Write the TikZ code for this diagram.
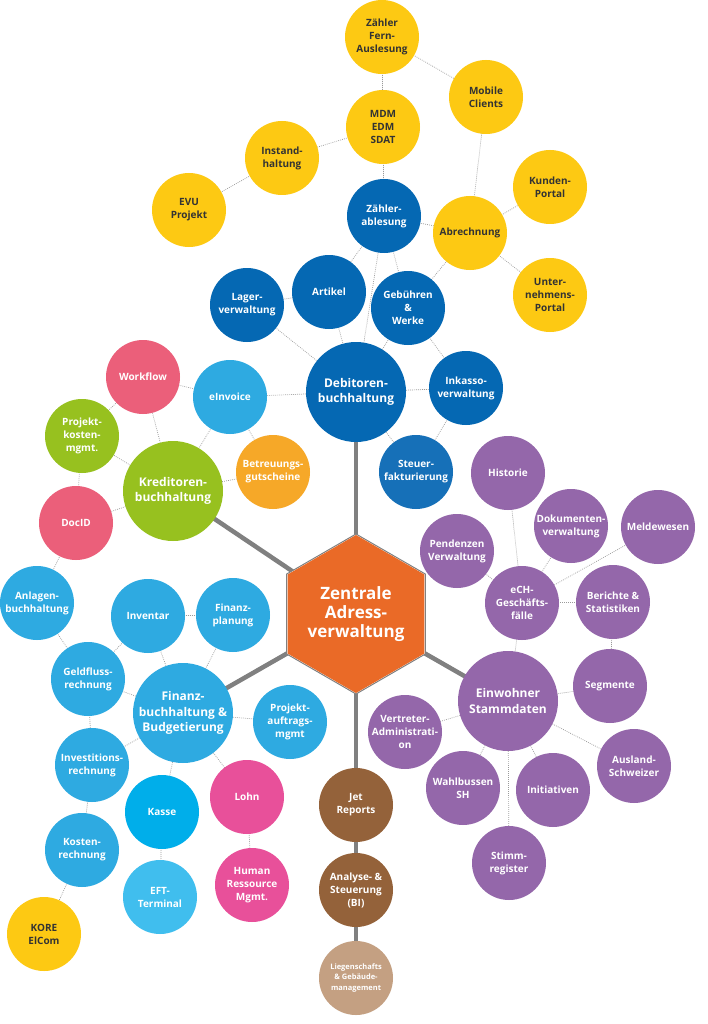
\documentclass[tikz,border=0pt]{standalone}
\usepackage{fontspec}
\setmainfont{Open Sans}
\usetikzlibrary{shapes.geometric,backgrounds}
\definecolor{cYel}{HTML}{FDC913}
\definecolor{cTxt}{HTML}{333333}
\definecolor{cDBlue}{HTML}{0568B3}
\definecolor{cSBlue}{HTML}{1670B8}
\definecolor{cLBlue}{HTML}{2EAAE1}
\definecolor{cKasse}{HTML}{00AEEA}
\definecolor{cEft}{HTML}{40BEEE}
\definecolor{cGreen}{HTML}{97C11F}
\definecolor{cRed}{HTML}{EB5F7A}
\definecolor{cOrng}{HTML}{F6A828}
\definecolor{cPink}{HTML}{E8509A}
\definecolor{cPurp}{HTML}{9467AA}
\definecolor{cBrown}{HTML}{94623A}
\definecolor{cTan}{HTML}{C4A082}
\definecolor{cHex}{HTML}{EA6A27}
\definecolor{cTrunk}{HTML}{808080}
\definecolor{cDot}{HTML}{9A9A9A}
\tikzset{
  bub/.style={circle, minimum size=74pt, inner sep=0pt, align=center,
    font=\bfseries\fontsize{10}{13}\selectfont, text=white},
  big/.style={minimum size=100pt, font=\bfseries\fontsize{12}{15.5}\selectfont},
  ylw/.style={bub, fill=cYel, text=cTxt},
  dblue/.style={bub, fill=cDBlue},
  sblue/.style={bub, fill=cSBlue},
  lblue/.style={bub, fill=cLBlue},
  kasse/.style={bub, fill=cKasse},
  eft/.style={bub, fill=cEft},
  grn/.style={bub, fill=cGreen},
  redb/.style={bub, fill=cRed},
  orng/.style={bub, fill=cOrng},
  pinkb/.style={bub, fill=cPink},
  purp/.style={bub, fill=cPurp},
  brwn/.style={bub, fill=cBrown},
  tanb/.style={bub, fill=cTan, font=\bfseries\fontsize{7.5}{10.5}\selectfont},
  link/.style={draw=cDot, line width=0.7pt, dash pattern=on 0.8pt off 1.2pt},
  trunk/.style={draw=cTrunk, line width=4.5pt},
}
\begin{document}
\begin{tikzpicture}[x=1pt,y=-1pt]
\useasboundingbox (0,0) rectangle (708,1024);
% hexagon
\node[regular polygon, regular polygon sides=6, shape border rotate=30,
  minimum size=160pt, inner sep=0pt, fill=white, draw=cTrunk, line width=1pt] (hex) at (356,614) {};
\node[regular polygon, regular polygon sides=6, shape border rotate=30,
  minimum size=142pt, inner sep=0pt, fill=cHex, text=white, align=center,
  font=\bfseries\fontsize{17}{19}\selectfont] (hexin) at (356,614) {Zentrale\\Adress-\\verwaltung};
% yellow / Debitoren group
\node[ylw] (zfa) at (382,37) {Zähler\\Fern-\\Auslesung};
\node[ylw] (mob) at (486,97) {Mobile\\Clients};
\node[ylw] (mdm) at (383,127) {MDM\\EDM\\SDAT};
\node[ylw] (inst) at (282,158) {Instand-\\haltung};
\node[ylw] (evu) at (189,210) {EVU\\Projekt};
\node[dblue] (zab) at (384,216) {Zähler-\\ablesung};
\node[ylw] (abr) at (470,233) {Abrechnung};
\node[ylw] (kun) at (550,187) {Kunden-\\Portal};
\node[ylw] (unt) at (550,295) {Unter-\\nehmens-\\Portal};
\node[dblue] (lag) at (247,305) {Lager-\\verwaltung};
\node[dblue] (art) at (329,292) {Artikel};
\node[dblue] (geb) at (408,308) {Gebühren\\\&\\Werke};
\node[dblue,big] (deb) at (356,392) {Debitoren-\\buchhaltung};
\node[dblue] (ink) at (466,388) {Inkasso-\\verwaltung};
\node[sblue] (steu) at (416,472) {Steuer-\\fakturierung};
% Kreditoren group
\node[lblue] (einv) at (230,397) {eInvoice};
\node[orng] (betr) at (273,472) {Betreuungs-\\gutscheine};
\node[redb] (wf) at (143,377) {Workflow};
\node[grn] (pkm) at (82,436) {Projekt-\\kosten-\\mgmt.};
\node[grn,big] (kred) at (173,491) {Kreditoren-\\buchhaltung};
\node[redb] (doc) at (76,523) {DocID};
% Finanz group
\node[lblue] (anl) at (37,603) {Anlagen-\\buchhaltung};
\node[lblue] (inv) at (148,616) {Inventar};
\node[lblue] (fpl) at (233,615) {Finanz-\\planung};
\node[lblue] (gfr) at (88,679) {Geldfluss-\\rechnung};
\node[lblue,big] (fib) at (183,713) {Finanz-\\buchhaltung \&\\Budgetierung};
\node[lblue] (pam) at (290,722) {Projekt-\\auftrags-\\mgmt};
\node[lblue] (ivr) at (92,765) {Investitions-\\rechnung};
\node[kasse] (kas) at (162,812) {Kasse};
\node[pinkb] (lohn) at (247,797) {Lohn};
\node[lblue] (kor) at (82,850) {Kosten-\\rechnung};
\node[eft] (eft) at (160,897) {EFT-\\Terminal};
\node[pinkb] (hrm) at (252,885) {Human\\Ressource\\Mgmt.};
\node[ylw] (kore) at (44,934) {KORE\\ElCom};
% BI chain
\node[brwn] (jet) at (356,805) {Jet\\Reports};
\node[brwn] (bi) at (356,890) {Analyse- \&\\Steuerung\\(BI)};
\node[tanb] (lieg) at (356,978) {Liegenschafts\\\& Gebäude-\\management};
% purple group
\node[purp] (hist) at (508,473) {Historie};
\node[purp] (dok) at (571,526) {Dokumenten-\\verwaltung};
\node[purp] (mel) at (658,527) {Meldewesen};
\node[purp] (pend) at (457,551) {Pendenzen\\Verwaltung};
\node[purp] (ech) at (522,603) {eCH-\\Geschäfts-\\fälle};
\node[purp] (ber) at (613,602) {Berichte \&\\Statistiken};
\node[purp] (seg) at (610,686) {Segmente};
\node[purp,big] (ein) at (508,701) {Einwohner\\Stammdaten};
\node[purp] (vert) at (405,732) {Vertreter-\\Administrati-\\on};
\node[purp] (aus) at (634,766) {Ausland-\\Schweizer};
\node[purp] (wahl) at (463,788) {Wahlbussen\\SH};
\node[purp] (init) at (553,790) {Initiativen};
\node[purp] (stim) at (509,863) {Stimm-\\register};
\begin{pgfonlayer}{background}
\fill[white] (0,0) rectangle (708,1024);
% trunks
\draw[trunk] (hex.center) -- (deb.center);
\draw[trunk] (hex.center) -- (kred.center);
\draw[trunk] (hex.center) -- (fib.center);
\draw[trunk] (hex.center) -- (ein.center);
\draw[trunk] (hex.center) -- (jet.center) -- (bi.center) -- (lieg.center);
% dotted links
\foreach \a/\b in {zfa/mob, zfa/mdm, mdm/inst, inst/evu, mdm/zab, mob/abr, abr/kun, abr/unt,
  zab/abr, zab/art, zab/geb, zab/deb, abr/geb, lag/art, lag/deb, art/deb, geb/deb, geb/ink,
  deb/ink, ink/steu, deb/steu, deb/einv, einv/wf, einv/kred, einv/betr, kred/betr, kred/wf,
  kred/pkm, kred/doc, wf/pkm, pkm/doc, doc/anl, anl/gfr, inv/fpl, inv/gfr, inv/fib, fpl/fib,
  gfr/fib, gfr/ivr, fib/pam, fib/ivr, fib/kas, fib/lohn, ivr/kor, kas/eft, lohn/hrm, kor/kore,
  hist/ech, dok/ech, mel/ech, pend/ech, ech/ber, ech/ein, ber/seg, seg/ein, ein/vert, ein/aus,
  ein/wahl, ein/init, ein/stim}
  \draw[link] (\a.center) -- (\b.center);
\end{pgfonlayer}
\end{tikzpicture}
\end{document}
